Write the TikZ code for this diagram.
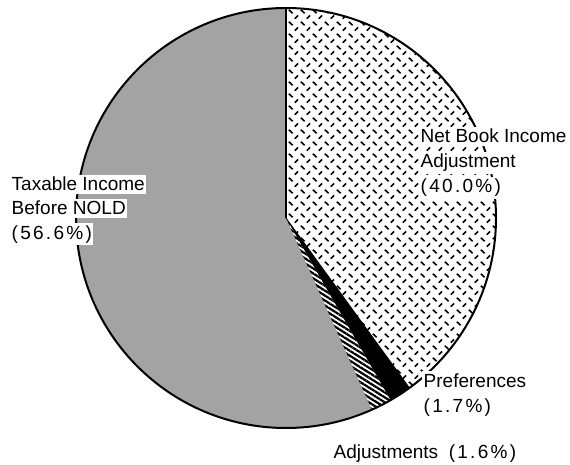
\documentclass[tikz,border=0pt]{standalone}
\usepackage{fontspec}
\setmainfont{Liberation Sans}
\newfontfamily\pctfont[LetterSpace=12]{Liberation Sans}
\usetikzlibrary{patterns.meta}
\tikzdeclarepattern{
  name=plate,
  type=uncolored,
  bottom left={(-1pt,-1pt)},
  top right={(13pt,13pt)},
  tile size={(12pt,12pt)},
  code={
    \draw[line width=1.6pt] (0.8pt,10.2pt) -- (4.6pt,6.8pt);
    \draw[line width=1.6pt] (6.8pt,1.4pt) -- (10pt,4.6pt);
  }
}
\begin{document}
\begin{tikzpicture}[x=1pt,y=1pt,
  lab/.style={anchor=base west, fill=white, inner xsep=1.5pt, inner ysep=2.5pt,
    font=\fontsize{19}{23}\selectfont},
  rim/.style={line width=2pt},
  divider/.style={line width=1.6pt}]
\fill[white] (0,0) rectangle (570,464);
\useasboundingbox (0,0) rectangle (570,464);
\coordinate (C) at (286,246);
\def\R{210}
% Taxable Income Before NOLD
\fill[black!36] (C) -- ++(-65.88:\R) arc[start angle=-65.88, end angle=-270, radius=\R] -- cycle;
% Net Book Income Adjustment
\fill[pattern=plate] (C) -- ++(90:\R) arc[start angle=90, end angle=-54, radius=\R] -- cycle;
% Preferences
\fill[black] (C) -- ++(-54:\R) arc[start angle=-54, end angle=-60.12, radius=\R] -- cycle;
% Adjustments
\fill[pattern={Lines[angle=-32,distance=4.2pt,line width=2.2pt]}] (C) -- ++(-60.12:\R) arc[start angle=-60.12, end angle=-65.88, radius=\R] -- cycle;
\draw[rim] (C) circle[radius=\R];
\draw[divider] (C) -- ++(90:\R);
\draw[line width=0.8pt] (C) -- ++(-54:\R);
% labels
\node[lab] (t1) at (10,273) {Taxable Income};
\node[lab] (t2) at (10,249) {Before NOLD};
\node[lab] (t3) at (10,225) {\pctfont(56.6\%)};
\node[lab] (n1) at (419,321) {Net Book Income};
\node[lab] (n2) at (419,296) {Adjustment};
\node[lab] (n3) at (419,271) {\pctfont(40.0\%)};
\node[lab] (p1) at (422,77) {Preferences};
\node[lab] (p2) at (422,52) {\pctfont(1.7\%)};
\node[lab] (a1) at (332,6) {Adjustments\ \ \pctfont(1.6\%)};
\end{tikzpicture}
\end{document}
